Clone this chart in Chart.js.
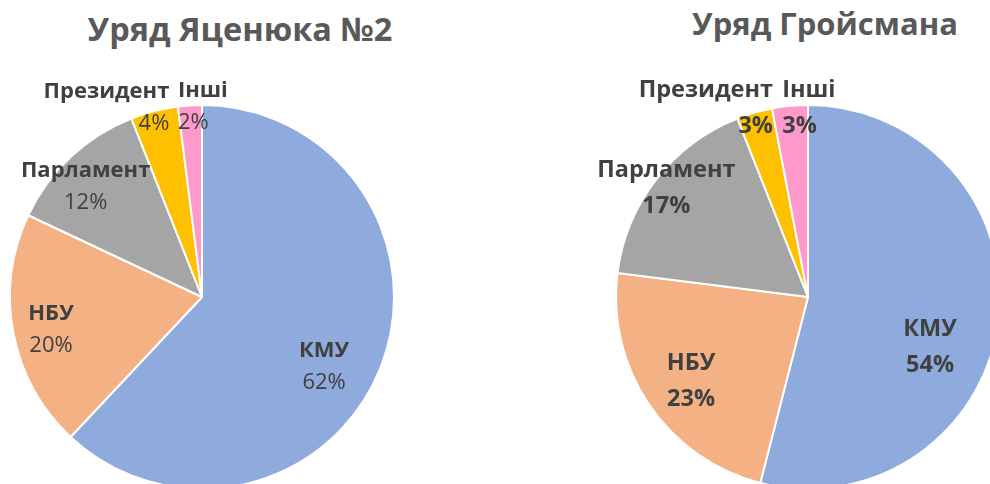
<!DOCTYPE html>
<html>
<head>
<meta charset="utf-8">
<script src="https://cdn.jsdelivr.net/npm/chart.js"></script>
<style>
  html, body { margin: 0; padding: 0; background: #fff; }
  body { width: 990px; height: 484px; overflow: hidden; position: relative; font-family: "Open Sans", sans-serif; }
  .title { position: absolute; transform: translateX(-50%); white-space: nowrap; font-weight: 700; color: #595959; line-height: 1; }
  canvas { position: absolute; top: 0; }
</style>
</head>
<body>
<div class="title" id="t1" style="left:240px; top:13px; font-size:32.5px;"></div>
<div class="title" id="t2" style="left:825px; top:8px; font-size:31px;"></div>
<canvas id="pie1" width="495" height="540" style="left:0px;"></canvas>
<canvas id="pie2" width="540" height="540" style="left:495px;"></canvas>
<script>
// data
const categories = ["КМУ", "НБУ", "Парламент", "Президент", "Інші"];
const yatsenyukShares = [62, 20, 12, 4, 2];
const groysmanShares = [54, 23, 17, 3, 3];
const titles = ["Уряд Яценюка №2", "Уряд Гройсмана"];

const sliceColors = ["#8FAADC", "#F4B183", "#A5A5A5", "#FFC000", "#FF99CC"];

// where each label sits: turn (deg from slice middle), reach (share of radius)
const place1 = [
  { turn: 8.2, reach: 0.733, align: "center" },
  { turn: -1.5, reach: 0.805, align: "center" },
  { turn: -3.4, reach: 0.834, align: "center" },
  { turn: 4.6, reach: 1.0, align: "right" },
  { turn: -3.6, reach: 1.0, align: "left" }
];
const place2 = [
  { turn: 15.1, reach: 0.687, align: "center" },
  { turn: -1.5, reach: 0.75, align: "center" },
  { turn: -0.3, reach: 0.93, align: "center" },
  { turn: 5.7, reach: 1.0, align: "right" },
  { turn: -2.4, reach: 0.99, align: "left" }
];

document.getElementById("t1").textContent = titles[0];
document.getElementById("t2").textContent = titles[1];

const sliceLabels = {
  id: "sliceLabels",
  afterDatasetsDraw(chart, args, opts) {
    const ctx = chart.ctx;
    const meta = chart.getDatasetMeta(0);
    const values = chart.data.datasets[0].data;
    ctx.save();
    ctx.fillStyle = "#404040";
    ctx.textBaseline = "middle";
    meta.data.forEach((arc, i) => {
      const p = opts.place[i];
      const a = arc.getProps(["x", "y", "startAngle", "endAngle", "outerRadius"], true);
      const mid = (a.startAngle + a.endAngle) / 2 + p.turn * Math.PI / 180;
      const lx = a.x + Math.cos(mid) * a.outerRadius * p.reach;
      const ly = a.y + Math.sin(mid) * a.outerRadius * p.reach;
      ctx.textAlign = p.align;
      ctx.font = "bold " + opts.size + "px 'Open Sans'";
      ctx.fillText(chart.data.labels[i], lx, ly - opts.gap / 2);
      ctx.font = opts.pctWeight + " " + opts.size + "px 'Open Sans'";
      ctx.fillText(values[i] + "%", lx, ly + opts.gap / 2);
    });
    ctx.restore();
  }
};

function makePie(id, values, padding, place, size, gap, pctWeight) {
  return new Chart(document.getElementById(id), {
    type: "pie",
    plugins: [sliceLabels],
    data: {
      labels: categories,
      datasets: [{
        data: values,
        backgroundColor: sliceColors,
        borderColor: "#ffffff",
        borderWidth: 2
      }]
    },
    options: {
      responsive: false,
      animation: false,
      events: [],
      layout: { padding: padding },
      plugins: {
        legend: { display: false },
        tooltip: { enabled: false },
        title: { display: false },
        sliceLabels: { place: place, size: size, gap: gap, pctWeight: pctWeight }
      }
    }
  });
}

makePie("pie1", yatsenyukShares, { left: 9, top: 104, right: 100, bottom: 50 }, place1, 22, 32, "normal");
makePie("pie2", groysmanShares, { left: 120, top: 104, right: 34, bottom: 50 }, place2, 23.5, 36, "bold");
</script>
</body>
</html>
